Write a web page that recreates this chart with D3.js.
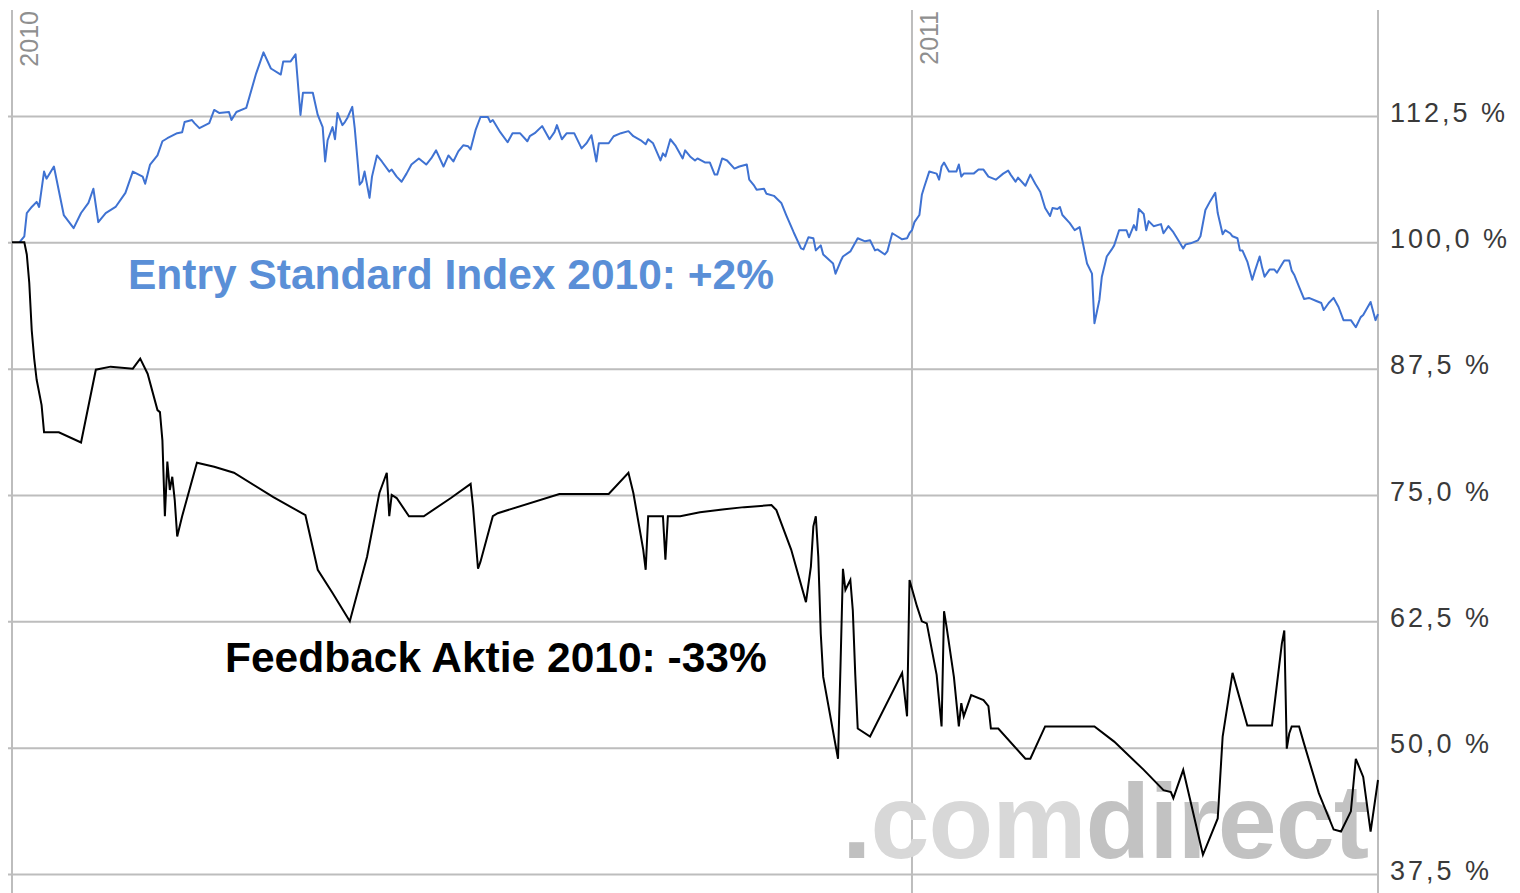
<!DOCTYPE html>
<html>
<head>
<meta charset="utf-8">
<script src="https://cdn.jsdelivr.net/npm/d3@7"></script>
<style>
  html, body { margin: 0; padding: 0; background: #fff; }
  svg { display: block; }
  text { font-family: "Liberation Sans", Arial, sans-serif; }
</style>
</head>
<body>
<svg id="chart" width="1520" height="893"></svg>
<script>
// ---- data ----
const yTicks = [37.5, 50, 62.5, 75, 87.5, 100, 112.5];
const yearTicks = ["2010-01-01", "2011-01-01"];
const domainDates = ["2010-01-01", "2011-07-09"];
const indexLabel = "Entry Standard Index 2010: +2%";
const stockLabel = "Feedback Aktie 2010: -33%";

// Entry Standard Index (blue), relative to 2010-01-01 = 100 %
const entryStandard = [
["2010-01-04",100.0],["2010-01-06",100.6],["2010-01-07",102.9],["2010-01-09",103.5],["2010-01-11",104.0],
["2010-01-12",103.5],["2010-01-14",107.0],["2010-01-15",106.3],["2010-01-18",107.5],["2010-01-22",102.7],
["2010-01-26",101.4],["2010-01-29",102.9],["2010-02-01",103.9],["2010-02-03",105.3],["2010-02-05",102.0],
["2010-02-08",102.9],["2010-02-12",103.5],["2010-02-16",104.9],["2010-02-19",107.0],["2010-02-23",106.5],
["2010-02-24",105.8],["2010-02-26",107.7],["2010-03-01",108.6],["2010-03-03",110.0],["2010-03-05",110.3],
["2010-03-09",110.8],["2010-03-11",110.9],["2010-03-12",111.9],["2010-03-15",112.1],["2010-03-16",111.8],
["2010-03-18",111.3],["2010-03-22",111.8],["2010-03-24",113.1],["2010-03-26",112.8],["2010-03-30",112.9],
["2010-03-31",112.1],["2010-04-02",112.9],["2010-04-06",113.3],["2010-04-10",116.7],["2010-04-13",118.8],
["2010-04-16",117.2],["2010-04-20",116.6],["2010-04-21",117.9],["2010-04-24",117.9],["2010-04-26",118.6],
["2010-04-28",112.6],["2010-04-29",114.8],["2010-05-03",114.8],["2010-05-05",112.6],["2010-05-07",111.4],
["2010-05-08",108.0],["2010-05-09",110.1],["2010-05-11",111.4],["2010-05-12",110.2],["2010-05-13",112.8],
["2010-05-15",111.6],["2010-05-16",111.9],["2010-05-17",112.3],["2010-05-19",113.4],["2010-05-20",111.3],
["2010-05-22",105.7],["2010-05-23",106.0],["2010-05-24",107.0],["2010-05-26",104.4],["2010-05-27",106.5],
["2010-05-29",108.6],["2010-05-31",108.0],["2010-06-03",107.0],["2010-06-04",107.2],["2010-06-06",106.5],
["2010-06-08",106.0],["2010-06-10",106.8],["2010-06-12",107.7],["2010-06-15",108.3],["2010-06-18",107.7],
["2010-06-20",108.3],["2010-06-22",109.1],["2010-06-25",107.5],["2010-06-27",108.6],["2010-06-29",108.0],
["2010-07-01",109.0],["2010-07-03",109.6],["2010-07-05",109.5],["2010-07-06",109.2],["2010-07-08",111.1],
["2010-07-10",112.4],["2010-07-13",112.4],["2010-07-14",111.9],["2010-07-15",112.1],["2010-07-18",110.9],
["2010-07-21",109.9],["2010-07-23",110.8],["2010-07-26",110.8],["2010-07-29",110.0],["2010-07-30",110.5],
["2010-08-01",110.8],["2010-08-04",111.5],["2010-08-07",110.2],["2010-08-09",110.9],["2010-08-10",111.6],
["2010-08-12",110.2],["2010-08-14",110.8],["2010-08-17",110.8],["2010-08-20",109.3],["2010-08-22",109.8],
["2010-08-24",110.6],["2010-08-26",108.0],["2010-08-27",109.8],["2010-08-31",109.8],["2010-09-02",110.5],
["2010-09-05",110.8],["2010-09-08",111.0],["2010-09-10",110.5],["2010-09-13",110.1],["2010-09-15",109.7],
["2010-09-16",110.2],["2010-09-18",109.8],["2010-09-21",108.1],["2010-09-22",108.8],["2010-09-23",108.5],
["2010-09-25",110.2],["2010-09-27",109.6],["2010-09-30",108.3],["2010-10-01",109.1],["2010-10-03",108.5],
["2010-10-05",108.1],["2010-10-06",108.3],["2010-10-09",107.9],["2010-10-11",107.9],["2010-10-13",106.7],
["2010-10-14",106.7],["2010-10-16",108.3],["2010-10-18",108.1],["2010-10-21",107.3],["2010-10-23",107.5],
["2010-10-26",107.7],["2010-10-27",106.2],["2010-10-29",105.6],["2010-10-30",105.2],["2010-11-02",105.3],
["2010-11-03",104.8],["2010-11-06",104.6],["2010-11-09",103.9],["2010-11-11",102.7],["2010-11-14",101.0],
["2010-11-17",99.4],["2010-11-18",99.3],["2010-11-20",100.5],["2010-11-22",100.4],["2010-11-23",99.2],
["2010-11-25",99.7],["2010-11-26",98.8],["2010-11-30",97.9],["2010-12-01",96.9],["2010-12-03",98.1],
["2010-12-04",98.6],["2010-12-07",99.1],["2010-12-10",100.4],["2010-12-13",100.1],["2010-12-15",100.2],
["2010-12-17",99.2],["2010-12-18",99.3],["2010-12-21",98.8],["2010-12-22",99.1],["2010-12-24",100.9],
["2010-12-26",100.6],["2010-12-28",100.3],["2010-12-30",100.4],["2010-12-31",100.9],["2011-01-01",101.2],
["2011-01-02",102.0],["2011-01-04",102.7],["2011-01-05",104.7],["2011-01-06",105.5],["2011-01-08",107.0],
["2011-01-11",106.8],["2011-01-12",106.2],["2011-01-13",107.5],["2011-01-14",107.9],["2011-01-16",107.0],
["2011-01-19",107.0],["2011-01-20",107.7],["2011-01-21",106.5],["2011-01-22",106.8],["2011-01-26",106.8],
["2011-01-28",107.2],["2011-01-30",107.2],["2011-02-01",106.5],["2011-02-03",106.3],["2011-02-04",106.2],
["2011-02-07",106.8],["2011-02-09",107.1],["2011-02-10",106.7],["2011-02-12",106.0],["2011-02-13",106.4],
["2011-02-16",105.6],["2011-02-18",106.7],["2011-02-20",105.8],["2011-02-22",105.0],["2011-02-24",103.4],
["2011-02-26",102.6],["2011-02-27",103.4],["2011-03-01",103.3],["2011-03-02",103.5],["2011-03-03",102.7],
["2011-03-06",101.9],["2011-03-08",101.2],["2011-03-10",101.5],["2011-03-11",100.3],["2011-03-13",97.9],
["2011-03-15",96.9],["2011-03-16",92.0],["2011-03-18",94.3],["2011-03-19",96.6],["2011-03-21",98.6],
["2011-03-23",99.3],["2011-03-24",99.7],["2011-03-26",101.2],["2011-03-29",101.2],["2011-03-30",100.5],
["2011-04-01",101.7],["2011-04-02",101.2],["2011-04-03",103.3],["2011-04-05",102.8],["2011-04-06",101.2],
["2011-04-07",102.1],["2011-04-09",101.6],["2011-04-12",101.8],["2011-04-13",100.9],["2011-04-15",101.6],
["2011-04-17",101.0],["2011-04-19",100.2],["2011-04-21",99.4],["2011-04-22",99.8],["2011-04-24",99.9],
["2011-04-27",100.2],["2011-04-28",100.6],["2011-04-30",103.2],["2011-05-02",104.1],["2011-05-04",104.9],
["2011-05-05",102.9],["2011-05-07",100.8],["2011-05-08",101.2],["2011-05-10",100.9],["2011-05-11",100.6],
["2011-05-13",100.4],["2011-05-14",99.2],["2011-05-15",99.2],["2011-05-17",98.1],["2011-05-19",96.3],
["2011-05-20",97.1],["2011-05-22",98.6],["2011-05-23",97.5],["2011-05-24",96.6],["2011-05-26",97.3],
["2011-05-28",97.3],["2011-05-29",97.0],["2011-05-31",97.8],["2011-06-01",98.2],["2011-06-03",98.2],
["2011-06-04",97.2],["2011-06-05",96.8],["2011-06-07",95.6],["2011-06-09",94.4],["2011-06-11",94.5],
["2011-06-14",94.2],["2011-06-16",94.0],["2011-06-17",93.3],["2011-06-19",94.0],["2011-06-21",94.5],
["2011-06-23",93.6],["2011-06-25",92.3],["2011-06-28",92.3],["2011-06-30",91.6],["2011-07-02",92.6],
["2011-07-03",92.8],["2011-07-06",94.1],["2011-07-08",92.3],["2011-07-09",92.9]
];

// Feedback Aktie (black), relative to 2010-01-01 = 100 %
const feedback = [
["2010-01-01",100.0],["2010-01-06",100.0],["2010-01-07",98.8],["2010-01-08",96.0],["2010-01-09",91.3],
["2010-01-10",88.5],["2010-01-11",86.4],["2010-01-13",83.9],["2010-01-14",81.2],["2010-01-20",81.2],
["2010-01-29",80.2],["2010-02-04",87.4],["2010-02-10",87.7],["2010-02-19",87.5],["2010-02-22",88.5],
["2010-02-25",87.0],["2010-03-01",83.4],["2010-03-02",83.2],["2010-03-03",80.4],["2010-03-04",72.9],
["2010-03-05",78.3],["2010-03-06",75.5],["2010-03-07",76.8],["2010-03-08",74.5],["2010-03-09",70.9],
["2010-03-11",72.9],["2010-03-17",78.2],["2010-03-24",77.8],["2010-04-01",77.2],["2010-04-17",74.8],
["2010-04-30",73.0],["2010-05-05",67.6],["2010-05-11",65.3],["2010-05-18",62.5],["2010-05-25",68.9],
["2010-05-30",75.2],["2010-06-02",77.2],["2010-06-03",72.9],["2010-06-04",75.0],["2010-06-06",74.7],
["2010-06-11",72.9],["2010-06-17",72.9],["2010-06-28",74.7],["2010-07-06",76.1],["2010-07-07",73.8],
["2010-07-09",67.7],["2010-07-10",68.4],["2010-07-15",72.9],["2010-07-17",73.2],["2010-08-11",75.1],
["2010-08-31",75.1],["2010-09-08",77.2],["2010-09-10",75.2],["2010-09-14",69.6],["2010-09-15",67.6],
["2010-09-16",72.9],["2010-09-22",72.9],["2010-09-23",68.6],["2010-09-24",72.9],["2010-09-29",72.9],
["2010-10-07",73.3],["2010-10-17",73.6],["2010-10-25",73.8],["2010-11-05",74.0],["2010-11-07",73.5],
["2010-11-13",69.6],["2010-11-19",64.4],["2010-11-21",67.9],["2010-11-22",71.9],["2010-11-23",72.9],
["2010-11-24",68.9],["2010-11-25",61.3],["2010-11-26",57.0],["2010-12-02",48.9],["2010-12-03",58.0],
["2010-12-04",67.7],["2010-12-05",65.6],["2010-12-07",66.6],["2010-12-08",63.6],["2010-12-09",57.2],
["2010-12-10",51.9],["2010-12-15",51.1],["2010-12-28",57.4],["2010-12-30",53.1],["2010-12-31",66.6],
["2011-01-03",64.0],["2011-01-05",62.5],["2011-01-07",62.3],["2011-01-11",57.2],["2011-01-13",52.1],
["2011-01-14",63.5],["2011-01-15",62.0],["2011-01-18",57.0],["2011-01-20",52.1],["2011-01-21",54.4],
["2011-01-22",53.1],["2011-01-25",55.2],["2011-01-30",54.7],["2011-02-01",54.1],["2011-02-02",51.9],
["2011-02-05",51.9],["2011-02-16",48.9],["2011-02-18",48.9],["2011-02-24",52.1],["2011-03-16",52.1],
["2011-03-24",50.6],["2011-04-05",47.8],["2011-04-13",45.8],["2011-04-16",45.6],["2011-04-17",45.0],
["2011-04-21",47.8],["2011-04-29",39.4],["2011-05-05",43.0],["2011-05-07",51.1],["2011-05-11",57.4],
["2011-05-17",52.2],["2011-05-27",52.2],["2011-05-31",60.3],["2011-06-01",61.6],["2011-06-02",49.9],
["2011-06-03",51.4],["2011-06-04",52.1],["2011-06-07",52.1],["2011-06-09",50.4],["2011-06-15",45.5],
["2011-06-21",41.9],["2011-06-24",41.7],["2011-06-28",43.7],["2011-06-30",48.9],["2011-07-03",47.1],
["2011-07-06",41.7],["2011-07-09",46.8]
];

// ---- drawing ----
const svg = d3.select("#chart");
const parse = d3.utcParse("%Y-%m-%d");
const W = 1520, H = 893;
const plotLeft = 12, plotRight = 1378, plotTop = 10;

svg.append("rect").attr("width", W).attr("height", H).attr("fill", "#fff");

const x = d3.scaleUtc().domain(domainDates.map(parse)).range([plotLeft, plotRight]);
const y = d3.scaleLinear().domain([37.5, 112.5]).range([874, 116]);

const gridColor = "#bdbdbd";
const fmt = v => d3.format(".1f")(v).replace(".", ",") + " %";

// horizontal grid + right labels
const yAxis = d3.axisRight(y).tickValues(yTicks).tickSize(0).tickPadding(0).tickFormat(fmt);
const gY = svg.append("g").attr("transform", `translate(${plotRight},0)`).call(yAxis);
gY.select(".domain").remove();
gY.selectAll(".tick line").remove();
gY.selectAll(".tick").append("line")
  .attr("x1", 8 - plotRight).attr("x2", 0)
  .attr("stroke", gridColor).attr("stroke-width", 2);
gY.selectAll(".tick text")
  .attr("x", 12).attr("dy", null).attr("y", 5)
  .attr("fill", "#3a3a3a").attr("font-size", 27).attr("letter-spacing", 3)
  .attr("font-family", "\"Liberation Sans\", Arial, sans-serif")
  .attr("text-anchor", "start");

// vertical lines: left border, year lines, right border
const vLines = [parse(domainDates[0]), parse(yearTicks[1]), parse(domainDates[1])];
svg.append("g").selectAll("line").data(vLines).join("line")
  .attr("x1", d => x(d)).attr("x2", d => x(d))
  .attr("y1", plotTop).attr("y2", H)
  .attr("stroke", gridColor).attr("stroke-width", 2);

// year labels (rotated)
svg.append("g").selectAll("text").data(yearTicks).join("text")
  .attr("transform", d => `translate(${x(parse(d)) + 26},${plotTop + 1}) rotate(-90)`)
  .attr("text-anchor", "end")
  .attr("font-size", 25).attr("fill", "#8f8f8f")
  .text(d => d.slice(0, 4));

// watermark
const wm = svg.append("text").attr("x", 842).attr("y", 858)
  .attr("font-size", 106).attr("font-weight", "bold").attr("letter-spacing", -1);
wm.append("tspan").attr("fill", "#c0c0c0").text(".");
wm.append("tspan").attr("fill", "#d8d8d8").text("com");
wm.append("tspan").attr("fill", "#c2c2c2").text("direct");

// lines
const line = d3.line().x(d => x(parse(d[0]))).y(d => y(d[1]));
svg.append("path").datum(entryStandard).attr("d", line)
  .attr("fill", "none").attr("stroke", "#3f72d2").attr("stroke-width", 2)
  .attr("stroke-linejoin", "round");
svg.append("path").datum(feedback).attr("d", line)
  .attr("fill", "none").attr("stroke", "#000").attr("stroke-width", 2)
  .attr("stroke-linejoin", "miter");

// annotations
svg.append("text").attr("x", 128).attr("y", 289)
  .attr("font-size", 42.5).attr("font-weight", "bold").attr("fill", "#5a8fd7")
  .text(indexLabel);
svg.append("text").attr("x", 225).attr("y", 672)
  .attr("font-size", 42.5).attr("font-weight", "bold").attr("fill", "#000")
  .text(stockLabel);
</script>
</body>
</html>
